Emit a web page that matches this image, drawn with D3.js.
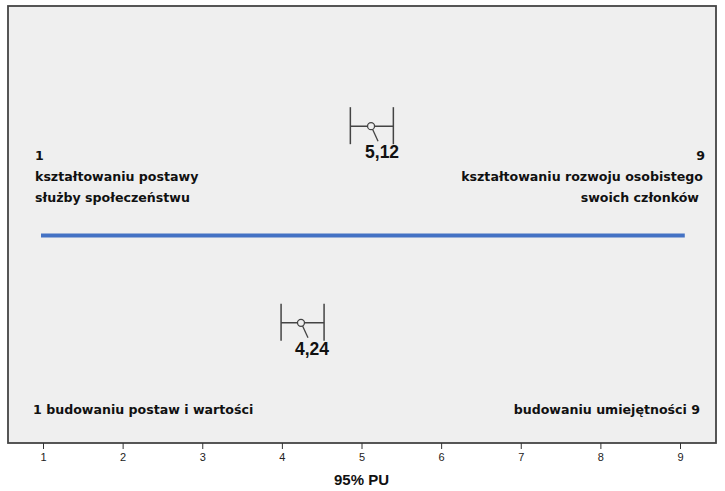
<!DOCTYPE html>
<html>
<head>
<meta charset="utf-8">
<script src="https://cdn.jsdelivr.net/npm/d3@7"></script>
<style>
  body { margin: 0; background: #fff; }
  .lab { font-family: "DejaVu Sans", sans-serif; font-weight: bold; font-size: 12.6px; fill: #111; }
  .val { font-family: "Liberation Sans", Arial, sans-serif; font-weight: bold; font-size: 17.5px; fill: #111; }
  .tick text { font-family: "Liberation Sans", Arial, sans-serif; font-size: 11px; fill: #222; }
</style>
</head>
<body>
<svg id="chart" width="725" height="491"></svg>
<script>
// data
var rows = ["rozwój", "umiejętności"];
var means = [5.12, 4.24];
var lower = [4.86, 3.99];
var upper = [5.40, 4.53];
var meanLabels = ["5,12", "4,24"];
var rowPos = [7.25, 2.75];
var ticks = [1, 2, 3, 4, 5, 6, 7, 8, 9];
var lineRange = [0.975, 9.06];
var linePos = 4.75;

var svg = d3.select('#chart');
var margin = { top: 6, left: 8, bottom: 48, right: 9 };
var width = 725, height = 491;

var x = d3.scaleLinear().domain([1, 9]).range([43, 680]);
var y = d3.scaleLinear().domain([0, 10]).range([height - margin.bottom, margin.top]);

// plot area
svg.append("rect")
    .attr("x", margin.left)
    .attr("y", margin.top)
    .attr("width", width - margin.left - margin.right)
    .attr("height", height - margin.top - margin.bottom)
    .attr("fill", "#efefef")
    .attr("stroke", "#444")
    .attr("stroke-width", 1.8);

// x axis
var xAxis = d3.axisBottom(x).tickValues(ticks).tickSize(6).tickPadding(4).tickFormat(d3.format("d"));
var ax = svg.append("g")
    .attr("transform", "translate(0," + (height - margin.bottom) + ")")
    .call(xAxis);
ax.select(".domain").remove();
ax.selectAll(".tick line").attr("stroke", "#333");

svg.append("text")
    .attr("class", "val")
    .attr("x", (x(1) + x(9)) / 2)
    .attr("y", 485)
    .attr("text-anchor", "middle")
    .style("font-size", "15px")
    .text("95% PU");

// blue separator line
svg.append("line")
    .attr("x1", x(lineRange[0])).attr("x2", x(lineRange[1]))
    .attr("y1", y(linePos)).attr("y2", y(linePos))
    .attr("stroke", "#4472c4")
    .attr("stroke-width", 4);

// error bars
var g = svg.append("g");
rows.forEach(function (r, i) {
    var cy = y(rowPos[i]);
    var cx = x(means[i]);
    g.append("line")
        .attr("x1", x(lower[i])).attr("x2", x(upper[i]))
        .attr("y1", cy).attr("y2", cy)
        .attr("stroke", "#444").attr("stroke-width", 1.5);
    [lower[i], upper[i]].forEach(function (v) {
        g.append("line")
            .attr("x1", x(v)).attr("x2", x(v))
            .attr("y1", cy - 19).attr("y2", cy + 18)
            .attr("stroke", "#444").attr("stroke-width", 1.5);
    });
    // leader line to label
    g.append("line")
        .attr("x1", cx + 1.5).attr("y1", cy + 3)
        .attr("x2", cx + 7).attr("y2", cy + 15)
        .attr("stroke", "#444").attr("stroke-width", 1.3);
    g.append("circle")
        .attr("cx", cx).attr("cy", cy).attr("r", 3.5)
        .attr("fill", "#efefef").attr("stroke", "#444").attr("stroke-width", 1.3);
    g.append("text")
        .attr("class", "val")
        .attr("x", cx - 6).attr("y", cy + 32)
        .text(meanLabels[i]);
});

// anchor labels
function label(txt, xx, yy, anchor) {
    svg.append("text").attr("class", "lab")
        .attr("x", xx).attr("y", yy)
        .attr("text-anchor", anchor)
        .text(txt);
}
label("1", x(1) - 8, 160, "start");
label("kształtowaniu postawy", x(1) - 8, 181, "start");
label("służby społeczeństwu", x(1) - 8, 202, "start");
label("9", x(9) + 25, 160, "end");
label("kształtowaniu rozwoju osobistego", x(9) + 23, 181, "end");
label("swoich członków", x(9) + 19, 202, "end");
label("1 budowaniu postaw i wartości", x(1) - 10, 414, "start");
label("budowaniu umiejętności 9", x(9) + 20, 414, "end");
</script>
</body>
</html>
